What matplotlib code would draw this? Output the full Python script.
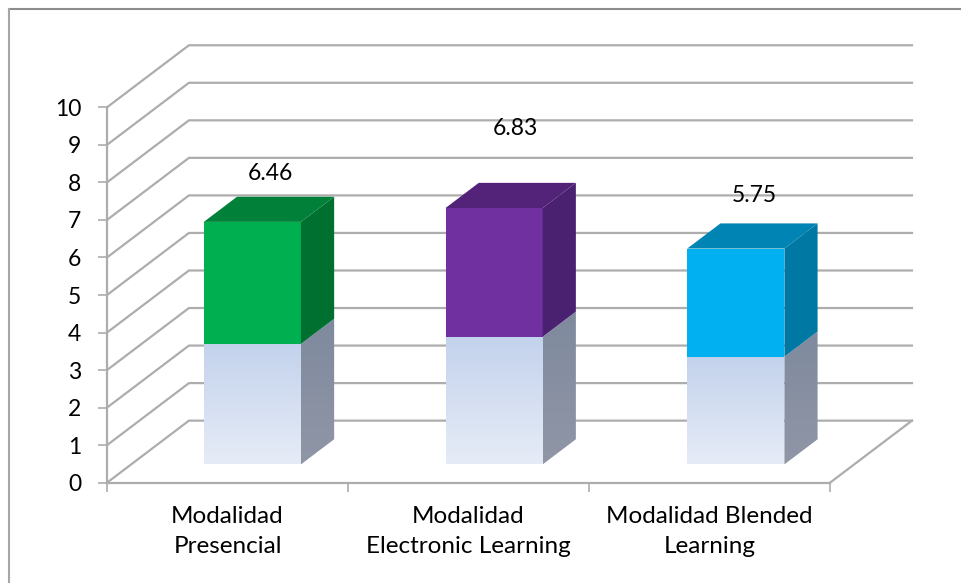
import matplotlib
matplotlib.use("Agg")
import matplotlib.pyplot as plt
import numpy as np
from matplotlib.lines import Line2D
from matplotlib.patches import Polygon

categories = ["Modalidad\nPresencial", "Modalidad\nElectronic Learning", "Modalidad Blended\nLearning"]
totals = [6.46, 6.83, 5.75]
lower_part = [3.21, 3.40, 2.87]

front_colors = ["#00b050", "#7030a0", "#00b0f0"]
top_colors = ["#008038", "#522378", "#0084b4"]
side_colors = ["#007030", "#4a2070", "#0078a4"]
# label shift above the bar top, in points
label_lift = [34.5, 57.5, 38.5]
label_shift_x = [1, 3, 1.5]

# depth of the chart box, in axis units (x = categories, y = value)
DX = 0.340
DY = 1.653
BAR_W = 0.403
BAR_STEP = 1.003
BAR_D0 = 0.295
BAR_D1 = 0.70
GRID = "#adadad"

plt.rcParams['font.family'] = ['Lato', 'DejaVu Sans']

fig = plt.figure(figsize=(9.61, 5.83), dpi=100)
W, H = 961, 583
ax = fig.add_axes([107 / W, 1 - 482.7 / H, 723 / W, 375.4 / H])
ax.patch.set_visible(False)


def proj(x, y, d):
    return (x + d * DX, y + d * DY)


def gradient(poly_pts, c_top, c_bottom, zorder):
    # vertical gradient clipped to a polygon
    pts = np.array(poly_pts)
    top = np.array(matplotlib.colors.to_rgb(c_top))
    bot = np.array(matplotlib.colors.to_rgb(c_bottom))
    t = np.linspace(0, 1, 128)[:, None, None]
    img = top[None, None, :] * (1 - t) + bot[None, None, :] * t
    im = ax.imshow(img, extent=(pts[:, 0].min(), pts[:, 0].max(), pts[:, 1].min(), pts[:, 1].max()),
                   aspect="auto", origin="upper", zorder=zorder)
    clip = Polygon(pts, closed=True, transform=ax.transData)
    im.set_clip_path(clip)


# walls
for v in range(11):
    p0 = proj(0, v, 0)
    p1 = proj(0, v, 1)
    p2 = proj(3, v, 1)
    ax.plot([p0[0], p1[0], p2[0]], [p0[1], p1[1], p2[1]], color=GRID, lw=1.6,
            clip_on=False, zorder=1, solid_joinstyle="miter")
p0 = proj(3, 0, 0)
p1 = proj(3, 0, 1)
ax.plot([p0[0], p1[0]], [p0[1], p1[1]], color=GRID, lw=1.6, clip_on=False, zorder=1)

# bars
for i, (total, low) in enumerate(zip(totals, lower_part)):
    x0 = i * BAR_STEP + (1 - BAR_W) / 2 + 0.003
    x1 = x0 + BAR_W
    xa, base = proj(x0, 0, BAR_D0)
    xb, _ = proj(x1, 0, BAR_D0)
    xc, _ = proj(x1, 0, BAR_D1)
    ddx = xc - xb
    ddy = (BAR_D1 - BAR_D0) * DY

    # lower part, front and side
    gradient([(xa, base), (xb, base), (xb, base + low), (xa, base + low)], "#c3d2ec", "#e6ecf7", 3)
    gradient([(xb, base), (xc, base + ddy), (xc, base + ddy + low), (xb, base + low)], "#7f8a9e", "#9096a6", 3)

    # upper part
    ax.add_patch(Polygon([(xa, base + low), (xb, base + low), (xb, base + total), (xa, base + total)],
                         color=front_colors[i], lw=0, zorder=4, clip_on=False))
    ax.add_patch(Polygon([(xb, base + low), (xc, base + low + ddy), (xc, base + total + ddy), (xb, base + total)],
                         color=side_colors[i], lw=0, zorder=4, clip_on=False))
    ax.add_patch(Polygon([(xa, base + total), (xb, base + total), (xc, base + total + ddy), (xa + ddx, base + total + ddy)],
                         color=top_colors[i], lw=0, zorder=4, clip_on=False))

    ax.annotate(f"{total:.2f}", xy=((xa + xc) / 2, base + total), xytext=(label_shift_x[i], label_lift[i]),
                textcoords="offset points", ha="center", va="center", fontsize=16.5,
                color="black", zorder=6, annotation_clip=False)

ax.set_xlim(0, 3)
ax.set_ylim(0, 10)
ax.set_yticks(range(11))
ax.set_xticks(range(4))
ax.set_xticklabels([])
ax.set_xticks([0.5, 1.5, 2.5], categories, minor=True)
ax.tick_params(axis="x", which="minor", length=0, pad=17, labelsize=17.5)
ax.tick_params(axis="x", which="major", length=6.5, width=1.2, color=GRID)
ax.tick_params(axis="y", length=6.5, width=1.2, color=GRID, labelsize=16.5, pad=12)
for s in ("top", "right"):
    ax.spines[s].set_visible(False)
for s in ("left", "bottom"):
    ax.spines[s].set_color(GRID)
    ax.spines[s].set_linewidth(1.6)
for lab in ax.get_xticklabels(minor=True):
    lab.set_linespacing(1.5)

# what is left of the outer chart frame: top and left edges only
fig.add_artist(Line2D([9 / W, 1], [1 - 9 / H, 1 - 9 / H], color="#8c8c8c", lw=1.5))
fig.add_artist(Line2D([9 / W, 9 / W], [0, 1 - 9 / H], color="#a6a6a6", lw=1.5))

fig.savefig("out.png", dpi=100)
